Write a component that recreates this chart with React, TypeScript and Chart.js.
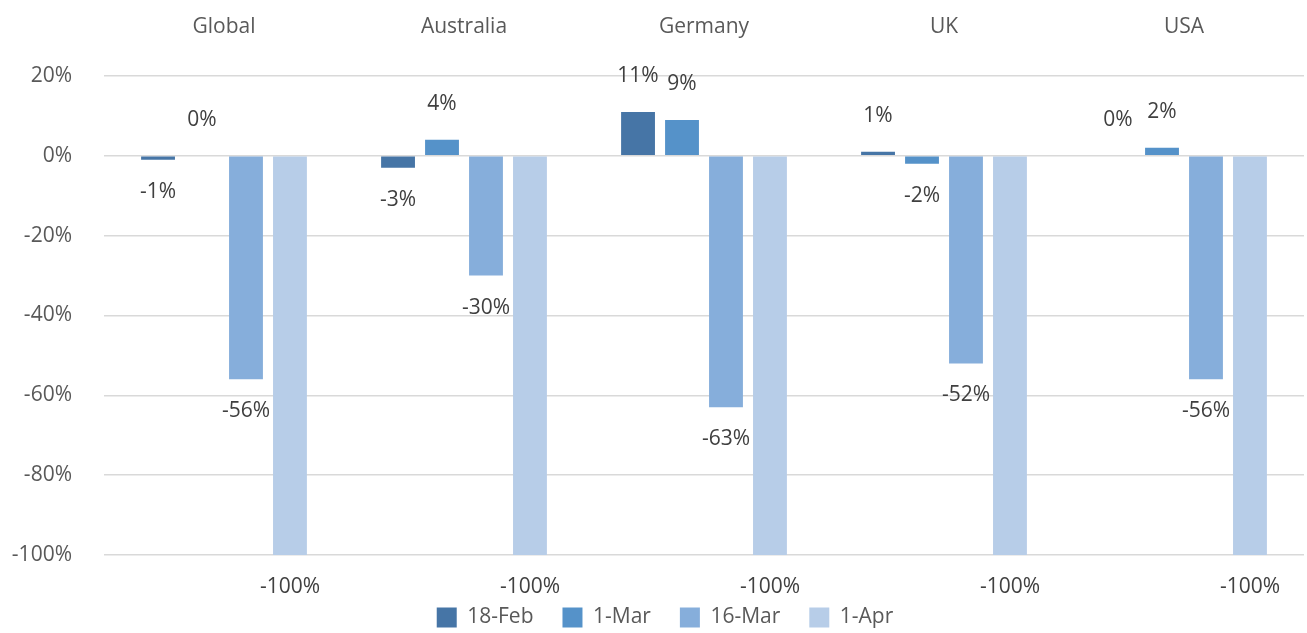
import React, { useEffect, useRef } from "react";
import { Chart, registerables } from "chart.js";

Chart.register(...registerables);

const categories = ["Global", "Australia", "Germany", "UK", "USA"];
const seriesNames = ["18-Feb", "1-Mar", "16-Mar", "1-Apr"];
const feb18 = [-1, -3, 11, 1, 0];
const mar1 = [0, 4, 9, -2, 2];
const mar16 = [-56, -30, -63, -52, -56];
const apr1 = [-100, -100, -100, -100, -100];
const yTicks = [20, 0, -20, -40, -60, -80, -100];
const colors = ["#4675A6", "#5592C9", "#86AEDB", "#B7CDE8"];

const FONT = "'Open Sans', sans-serif";

const labelPlugin = {
  id: "barLabels",
  afterLayout(chart: any) {
    if (chart.legend) {
      chart.legend.left += 26;
    }
  },
  afterDatasetsDraw(chart: any) {
    const ctx = chart.ctx;
    ctx.save();
    ctx.font = `21px ${FONT}`;
    ctx.fillStyle = "#404040";
    ctx.textAlign = "center";
    ctx.textBaseline = "middle";
    chart.data.datasets.forEach((ds: any, di: number) => {
      const meta = chart.getDatasetMeta(di);
      meta.data.forEach((bar: any, i: number) => {
        const v = ds.data[i];
        const y = v < 0 ? bar.y + 32 : bar.y - 36;
        ctx.fillText(`${v}%`, bar.x, y);
      });
    });
    ctx.restore();
  },
};

export default function App() {
  const ref = useRef<HTMLCanvasElement>(null);
  useEffect(() => {
    const data = [feb18, mar1, mar16, apr1];
    const chart = new Chart(ref.current!, {
      type: "bar",
      data: {
        labels: categories,
        datasets: seriesNames.map((n, i) => ({
          label: n,
          data: data[i],
          backgroundColor: colors[i],
          borderWidth: 0,
          categoryPercentage: 0.733,
          barPercentage: 0.77,
        })),
      },
      options: {
        animation: false,
        responsive: false,
        maintainAspectRatio: false,
        layout: { padding: { left: 0, right: 3, top: 0, bottom: 0 } },
        plugins: {
          tooltip: { enabled: false },
          legend: {
            position: "bottom",
            title: { display: true, text: "", padding: 0, font: { size: 23, lineHeight: 1 } },
            labels: {
              boxWidth: 20,
              boxHeight: 20,
              padding: 29,
              color: "#595959",
              font: { family: FONT, size: 21 },
            },
          },
        },
        scales: {
          x: {
            position: "top",
            grid: { display: false, drawTicks: false },
            border: { display: false },
            ticks: { color: "#595959", font: { family: FONT, size: 21 }, padding: 36 },
            afterFit(scale: any) {
              scale.height = 76;
            },
          },
          y: {
            min: -100,
            max: 20,
            grid: { color: "#D9D9D9", lineWidth: 1.5, drawTicks: false },
            border: { display: false },
            afterBuildTicks(scale: any) {
              scale.ticks = yTicks.map((v) => ({ value: v }));
            },
            ticks: {
              color: "#595959",
              font: { family: FONT, size: 21 },
              padding: 32,
              callback: (v: any) => `${v}%`,
            },
            afterFit(scale: any) {
              scale.width = 104;
            },
          },
        },
      },
      plugins: [labelPlugin],
    });
    return () => chart.destroy();
  }, []);
  return (
    <div style={{ position: "fixed", left: 0, top: 0, width: 1307, height: 638, background: "#fff" }}>
      <canvas ref={ref} width={1307} height={638} style={{ display: "block" }} />
    </div>
  );
}
